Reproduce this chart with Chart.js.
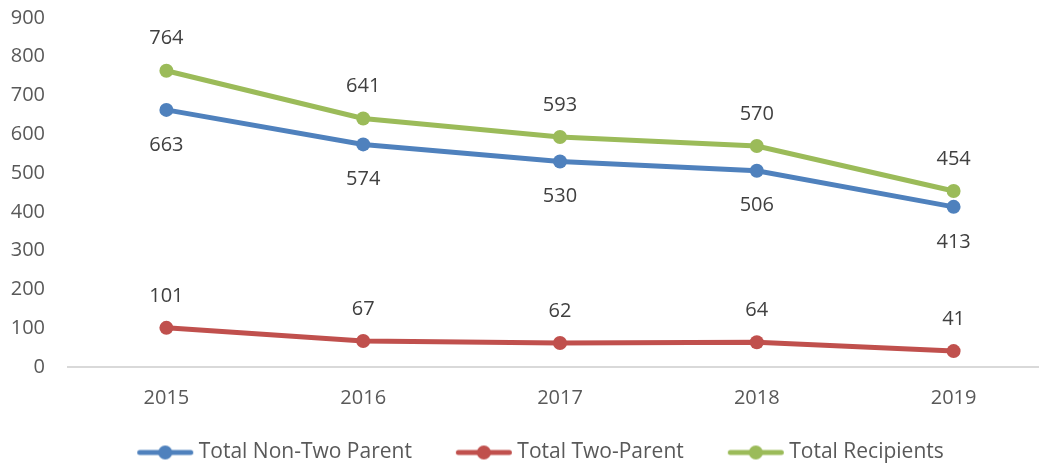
<!DOCTYPE html>
<html>
<head>
<meta charset="utf-8">
<script src="https://cdn.jsdelivr.net/npm/chart.js@4.4.1/dist/chart.umd.min.js"></script>
<style>
  html, body { margin: 0; padding: 0; background: #fff; overflow: hidden; }
  #wrap { position: relative; width: 1060px; height: 473px; }
</style>
</head>
<body>
<div id="wrap"><canvas id="tanfChart"></canvas></div>
<script>
// du lieu doc tu hinh
const years = ['2015', '2016', '2017', '2018', '2019'];
const nonTwoParent = [663, 574, 530, 506, 413];
const twoParent = [101, 67, 62, 64, 41];
const recipients = [764, 641, 593, 570, 454];
const yTicks = [0, 100, 200, 300, 400, 500, 600, 700, 800, 900];

const FONT = '"Open Sans", sans-serif';

// bieu tuong legend: duong ke + cham tron (lech phai de sat chu)
function legendIcon(color) {
    const c = document.createElement('canvas');
    c.width = 84; c.height = 16;
    const g = c.getContext('2d');
    g.strokeStyle = color;
    g.lineWidth = 5;
    g.lineCap = 'round';
    g.beginPath();
    g.moveTo(28.5, 8); g.lineTo(79.5, 8);
    g.stroke();
    g.fillStyle = color;
    g.beginPath();
    g.arc(54, 8, 7, 0, Math.PI * 2);
    g.fill();
    return c;
}

// ve so lieu tren diem
const pointLabels = {
    id: 'pointLabels',
    afterDatasetsDraw(chart) {
        const ctx = chart.ctx;
        ctx.save();
        ctx.font = '20px ' + FONT;
        ctx.fillStyle = '#404040';
        ctx.textAlign = 'center';
        ctx.textBaseline = 'middle';
        chart.data.datasets.forEach((ds, i) => {
            const meta = chart.getDatasetMeta(i);
            meta.data.forEach((pt, j) => {
                ctx.fillText(String(ds.data[j]), pt.x, pt.y + ds.labelOffset);
            });
        });
        ctx.restore();
    }
};

const blue = '#4F81BD';
const red = '#C0504D';
const green = '#9BBB59';

function makeSeries(label, data, color, offset) {
    return {
        label: label,
        data: data,
        borderColor: color,
        backgroundColor: color,
        borderWidth: 5,
        pointRadius: 7,
        pointHoverRadius: 7,
        pointBorderWidth: 0,
        tension: 0,
        labelOffset: offset,
        legendIcon: legendIcon(color)
    };
}

new Chart(document.getElementById('tanfChart'), {
    type: 'line',
    data: {
        labels: years,
        datasets: [
            makeSeries('Total Non-Two Parent', nonTwoParent, blue, 35),
            makeSeries('Total Two-Parent', twoParent, red, -32),
            makeSeries('Total Recipients', recipients, green, -32)
        ]
    },
    options: {
        responsive: true,
        maintainAspectRatio: false,
        animation: false,
        layout: { padding: { left: 10, right: 8, top: 18, bottom: 0 } },
        plugins: {
            tooltip: { enabled: false },
            legend: {
                position: 'bottom',
                labels: {
                    usePointStyle: true,
                    pointStyleWidth: 70,
                    boxHeight: 16,
                    padding: 25,
                    color: '#595959',
                    font: { family: FONT, size: 21 },
                    generateLabels(chart) {
                        return chart.data.datasets.map((ds, i) => ({
                            text: ds.label,
                            pointStyle: ds.legendIcon,
                            fillStyle: ds.borderColor,
                            strokeStyle: ds.borderColor,
                            lineWidth: 0,
                            fontColor: '#595959',
                            datasetIndex: i,
                            hidden: false
                        }));
                    }
                }
            }
        },
        scales: {
            x: {
                offset: true,
                grid: { display: false, drawTicks: false, offset: true },
                border: { display: true, color: '#D9D9D9', width: 2 },
                ticks: { color: '#595959', padding: 19, font: { family: FONT, size: 20 } },
                afterFit(scale) { scale.height = 50; }
            },
            y: {
                min: 0,
                max: 900,
                grid: { display: false, drawTicks: false },
                border: { display: false },
                afterBuildTicks(scale) { scale.ticks = yTicks.map(v => ({ value: v })); },
                ticks: { color: '#595959', padding: 23, font: { family: FONT, size: 20 } },
                afterFit(scale) {
                    scale.width = 58;
                    scale.paddingTop = 0;
                    scale.paddingBottom = 0;
                }
            }
        }
    },
    plugins: [pointLabels]
});
</script>
</body>
</html>
